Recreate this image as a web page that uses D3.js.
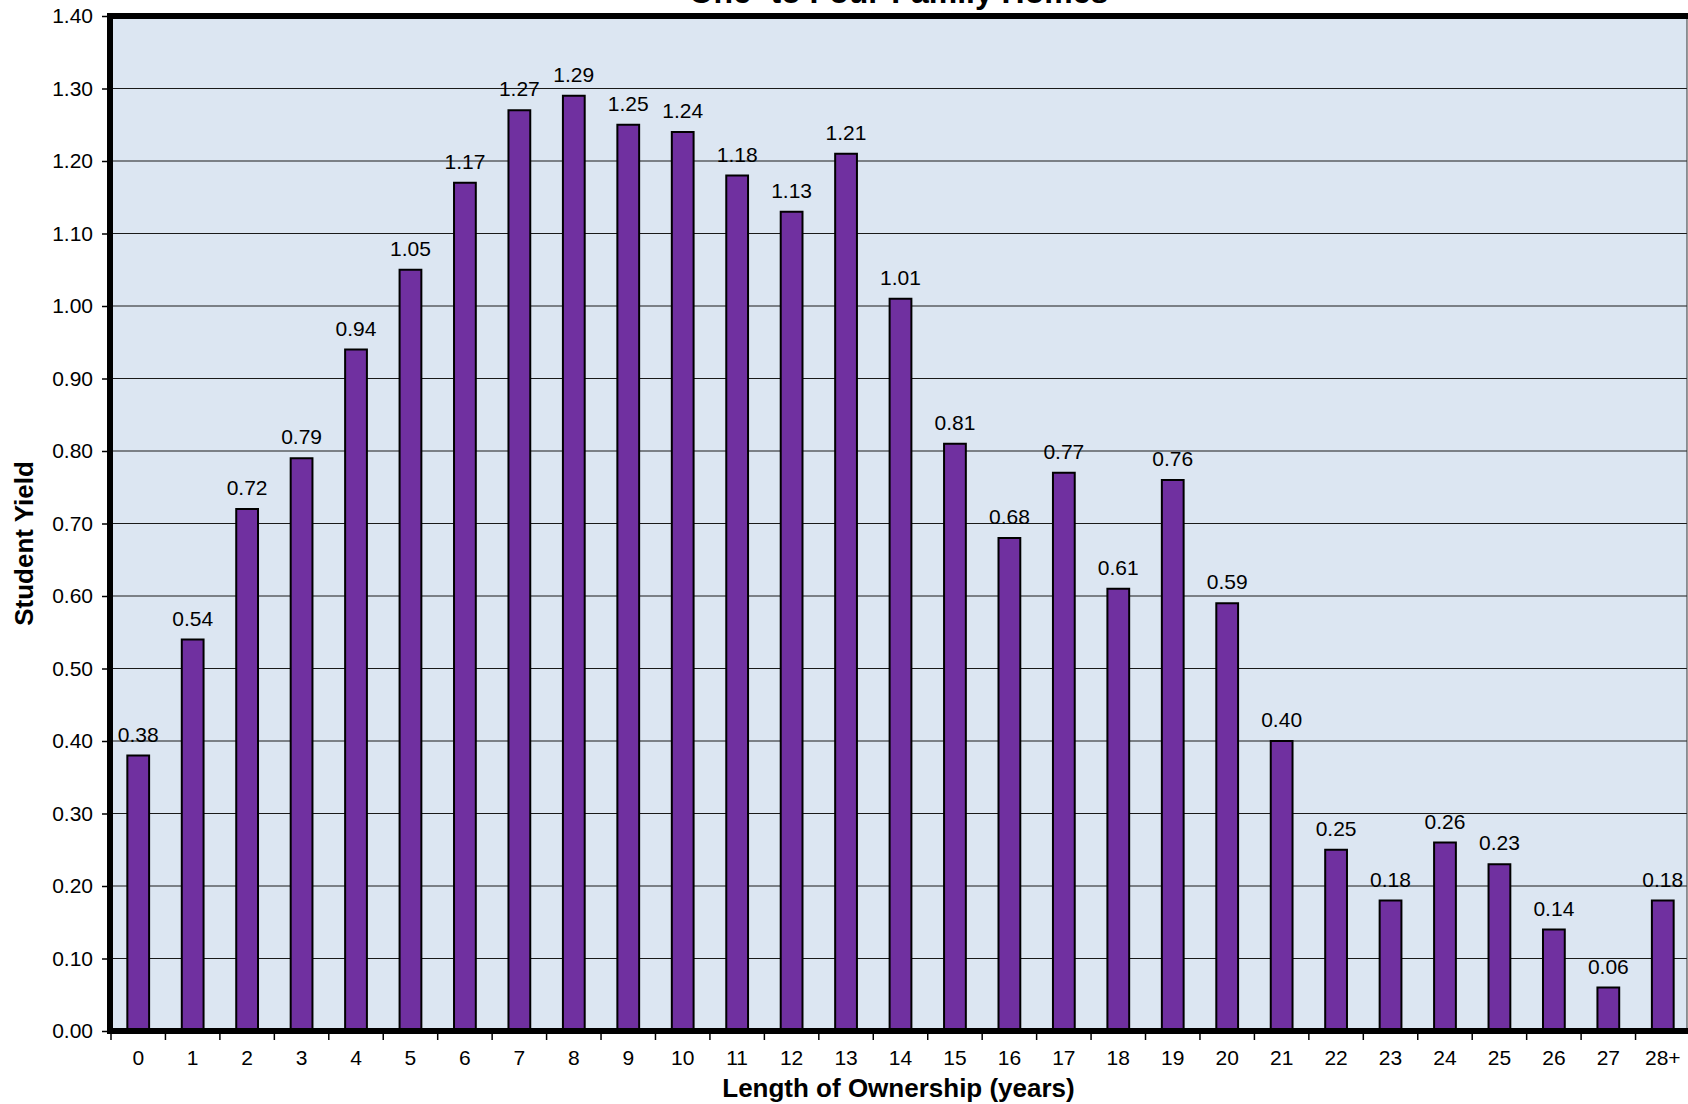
<!DOCTYPE html>
<html>
<head>
<meta charset="utf-8">
<script src="https://cdn.jsdelivr.net/npm/d3@7"></script>
<style>
  html, body { margin: 0; padding: 0; background: #ffffff; }
  svg { display: block; font-family: "Liberation Sans", Arial, sans-serif; }
</style>
</head>
<body>
<svg id="chart" width="1688" height="1104"></svg>
<script>
// Student yield by length of ownership, one- to four-family homes
const categories = ["0","1","2","3","4","5","6","7","8","9","10","11","12","13","14",
  "15","16","17","18","19","20","21","22","23","24","25","26","27","28+"];
const yieldValues = [0.38, 0.54, 0.72, 0.79, 0.94, 1.05, 1.17, 1.27, 1.29, 1.25, 1.24, 1.18,
  1.13, 1.21, 1.01, 0.81, 0.68, 0.77, 0.61, 0.76, 0.59, 0.40, 0.25, 0.18, 0.26, 0.23, 0.14,
  0.06, 0.18];
const yTicks = [0, 0.1, 0.2, 0.3, 0.4, 0.5, 0.6, 0.7, 0.8, 0.9, 1.0, 1.1, 1.2, 1.3, 1.4];

const titleText = "One- to Four-Family Homes";
const xTitle = "Length of Ownership (years)";
const yTitle = "Student Yield";

const svg = d3.select("#chart");
const plot = { left: 110, right: 1687, top: 16, bottom: 1031 };

const x = d3.scaleBand()
  .domain(categories)
  .range([plot.left + 1, plot.right + 3])
  .paddingInner(0.6)
  .paddingOuter(0.3);

const y = d3.scaleLinear()
  .domain([0, 1.4])
  .range([plot.bottom, plot.top]);

// plot area background
svg.append("rect")
  .attr("x", plot.left).attr("y", plot.top)
  .attr("width", plot.right - plot.left)
  .attr("height", plot.bottom - plot.top)
  .attr("fill", "#dce6f2");

// horizontal gridlines
svg.append("g")
  .selectAll("line")
  .data(yTicks.slice(1, -1))
  .join("line")
  .attr("x1", plot.left).attr("x2", plot.right)
  .attr("y1", d => y(d)).attr("y2", d => y(d))
  .attr("stroke", "#1a1a1a")
  .attr("stroke-width", 1);

// bars
svg.append("g")
  .selectAll("rect")
  .data(categories.map((c, i) => ({ c, v: yieldValues[i] })))
  .join("rect")
  .attr("x", d => x(d.c))
  .attr("y", d => y(d.v))
  .attr("width", x.bandwidth())
  .attr("height", d => y(0) - y(d.v))
  .attr("fill", "#7030a0")
  .attr("stroke", "#000")
  .attr("stroke-width", 2);

// value labels
svg.append("g")
  .selectAll("text")
  .data(categories.map((c, i) => ({ c, v: yieldValues[i] })))
  .join("text")
  .attr("x", d => x(d.c) + x.bandwidth() / 2)
  .attr("y", d => y(d.v) - 14)
  .attr("text-anchor", "middle")
  .attr("font-size", 21)
  .attr("fill", "#000")
  .text(d => d.v.toFixed(2));

// frame: heavy left, top and bottom edges, thin right edge
svg.append("line")
  .attr("x1", plot.right).attr("x2", plot.right)
  .attr("y1", plot.top).attr("y2", plot.bottom)
  .attr("stroke", "#333").attr("stroke-width", 1);
svg.append("path")
  .attr("d", `M${plot.right + 5},${plot.top} L${plot.left},${plot.top} L${plot.left},${plot.bottom} L${plot.right + 5},${plot.bottom}`)
  .attr("fill", "none")
  .attr("stroke", "#000")
  .attr("stroke-width", 6)
  .attr("stroke-linejoin", "miter");

// y axis ticks and labels
const yAxis = d3.axisLeft(y)
  .tickValues(yTicks)
  .tickFormat(d3.format(".2f"))
  .tickSize(5)
  .tickPadding(9);
const gy = svg.append("g")
  .attr("transform", `translate(${plot.left - 3},0)`)
  .call(yAxis);
gy.select(".domain").remove();
gy.selectAll(".tick line").attr("stroke", "#000").attr("stroke-width", 1.5);
gy.selectAll(".tick text")
  .attr("font-size", 21)
  .attr("font-family", "Liberation Sans, Arial, sans-serif")
  .attr("fill", "#000");

// x axis: labels under each category, ticks on band boundaries
const xAxis = d3.axisBottom(x).tickSize(0).tickPadding(16);
const gx = svg.append("g")
  .attr("transform", `translate(0,${plot.bottom + 3})`)
  .call(xAxis);
gx.select(".domain").remove();
gx.selectAll(".tick text")
  .attr("font-size", 21)
  .attr("font-family", "Liberation Sans, Arial, sans-serif")
  .attr("fill", "#000");

const step = x.step();
const bounds = categories.map(c => x(c) - (step - x.bandwidth()) / 2);
svg.append("g")
  .selectAll("line")
  .data(bounds)
  .join("line")
  .attr("x1", d => d).attr("x2", d => d)
  .attr("y1", plot.bottom + 3).attr("y2", plot.bottom + 9)
  .attr("stroke", "#000").attr("stroke-width", 1.5);

// titles
svg.append("text")
  .attr("x", (plot.left + plot.right) / 2)
  .attr("y", 3)
  .attr("text-anchor", "middle")
  .attr("font-size", 32)
  .attr("font-weight", "bold")
  .text(titleText);

svg.append("text")
  .attr("x", (plot.left + plot.right) / 2)
  .attr("y", 1097)
  .attr("text-anchor", "middle")
  .attr("font-size", 26)
  .attr("font-weight", "bold")
  .text(xTitle);

svg.append("text")
  .attr("transform", `translate(33,${(plot.top + plot.bottom) / 2 + 20}) rotate(-90)`)
  .attr("text-anchor", "middle")
  .attr("font-size", 26)
  .attr("font-weight", "bold")
  .text(yTitle);
</script>
</body>
</html>
